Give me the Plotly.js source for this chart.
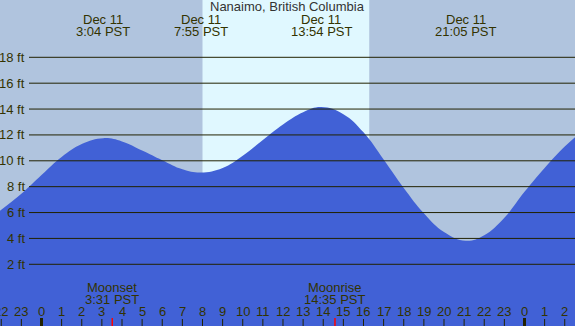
<!DOCTYPE html>
<html><head><meta charset="utf-8">
<script src="https://cdn.plot.ly/plotly-3.0.1.min.js"></script>
<style>html,body{margin:0;padding:0;background:#b0c4de}#c{width:575px;height:326px}</style>
</head><body><div id="c"></div>
<script>
// Tide heights (ft), time in hours from midnight Dec 11 (PST)
const tideHours = [-2.1, -1, 0, 1, 2, 3.07, 4, 5, 6, 7, 7.92, 9, 10, 11, 12, 13, 13.9, 15, 16, 17, 18, 19, 20, 21.08, 22, 23, 24, 25, 26, 26.6];
const tideFeet  = [6.1, 7.45, 8.9, 10.3, 11.3, 11.75, 11.5, 10.8, 10.05, 9.35, 9.1, 9.45, 10.4, 11.6, 12.8, 13.75, 14.15, 13.6, 12.2, 10.1, 7.9, 5.95, 4.5, 3.82, 4.25, 5.6, 7.6, 9.45, 11.1, 11.95];
const yTicks = [2, 4, 6, 8, 10, 12, 14, 16, 18];
const hourTicks = [-2,-1,0,1,2,3,4,5,6,7,8,9,10,11,12,13,14,15,16,17,18,19,20,21,22,23,24,25,26];
const eventHours = [3.07, 7.92, 13.9, 21.08];
const eventLabels = ["3:04 PST", "7:55 PST", "13:54 PST", "21:05 PST"];
const eventDate = "Dec 11";
const moonHours = [3.517, 14.583];
const moonNames = ["Moonset", "Moonrise"];
const moonTimes = ["3:31 PST", "14:35 PST"];
const sunrise = 8.0, sunset = 16.285;
const title = "Nanaimo, British Columbia";

const W = 575, H = 326;
const txt = "#333300";
const F = "Liberation Sans, Arial, sans-serif";
const shapes = [];
const ann = [];
shapes.push({type:'rect', xref:'x', yref:'paper', x0:sunrise, x1:sunset, y0:0, y1:1, fillcolor:'#e0f8ff', line:{width:0}, layer:'below'});
yTicks.forEach(v => {
  shapes.push({type:'line', xref:'paper', yref:'y', x0:29/W, x1:1, y0:v, y1:v, line:{color:'#222200', width:1}, layer:'above'});
  ann.push({xref:'paper', yref:'y', x:27/W, y:v, xanchor:'right', yanchor:'middle', text:v+' ft', showarrow:false, font:{family:F, size:13, color:txt}});
});
hourTicks.forEach(h => {
  const thick = (h % 24 === 0);
  shapes.push({type:'line', xref:'x', yref:'paper', x0:h, x1:h, y0:0, y1:(thick?8:7)/H, line:{color:'#222200', width:thick?3:1}, layer:'above'});
  ann.push({xref:'x', yref:'paper', x:h, y:1-311.7/H, xanchor:'center', yanchor:'middle', text:String(((h%24)+24)%24), showarrow:false, font:{family:F, size:13, color:txt}});
});
moonHours.forEach((h,i) => {
  shapes.push({type:'line', xref:'x', yref:'paper', x0:h, x1:h, y0:0, y1:8/H, line:{color:'#ff0000', width:1.5}, layer:'above'});
  ann.push({xref:'x', yref:'paper', x:h, y:1-287.3/H, xanchor:'center', yanchor:'middle', text:moonNames[i], showarrow:false, font:{family:F, size:13, color:txt}});
  ann.push({xref:'x', yref:'paper', x:h, y:1-299.5/H, xanchor:'center', yanchor:'middle', text:moonTimes[i], showarrow:false, font:{family:F, size:13, color:txt}});
});
eventHours.forEach((h,i) => {
  ann.push({xref:'x', yref:'paper', x:h, y:1-19.3/H, xanchor:'center', yanchor:'middle', text:eventDate, showarrow:false, font:{family:F, size:13, color:txt}});
  ann.push({xref:'x', yref:'paper', x:h, y:1-31.7/H, xanchor:'center', yanchor:'middle', text:eventLabels[i], showarrow:false, font:{family:F, size:13, color:txt}});
});
ann.push({xref:'paper', yref:'paper', x:0.5, y:1-7/H, xanchor:'center', yanchor:'middle', text:title, showarrow:false, font:{family:F, size:13, color:'#333333'}});

const traces = [
  {x:[-3, 28], y:[-5, -5], mode:'lines', line:{width:0}, hoverinfo:'skip', showlegend:false},
  {x:tideHours, y:tideFeet, mode:'lines', line:{width:0, shape:'spline', smoothing:1.2}, fill:'tonexty', fillcolor:'#4161d6', showlegend:false}
];
const layout = {
  width:W, height:H, margin:{l:0,r:0,t:0,b:0},
  paper_bgcolor:'#b0c4de', plot_bgcolor:'#b0c4de',
  xaxis:{range:[-2.062, 26.51], visible:false, fixedrange:true},
  yaxis:{range:[-2.77, 22.43], visible:false, fixedrange:true},
  shapes:shapes, annotations:ann, showlegend:false
};
Plotly.newPlot('c', traces, layout, {staticPlot:true, displayModeBar:false});
</script></body></html>
